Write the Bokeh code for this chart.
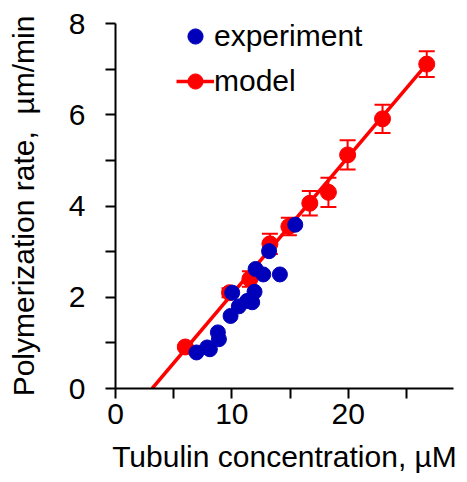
from bokeh.plotting import figure
from bokeh.models import (Range1d, FixedTicker, Whisker, ColumnDataSource, TeeHead,
                          Legend, LegendItem)
from bokeh.embed import file_html
from bokeh.resources import INLINE

# ---- data ----
exp_x = [6.96, 7.88, 8.11, 8.80, 8.89, 9.89, 10.03, 10.6, 11.32, 11.75, 11.95, 12.04, 12.7, 13.2, 14.13, 15.45]
exp_y = [0.79, 0.90, 0.86, 1.23, 1.08, 1.59, 2.10, 1.80, 1.92, 1.89, 2.12, 2.62, 2.50, 3.01, 2.50, 3.59]

model_x = [6.0, 9.8, 11.55, 13.27, 14.9, 16.7, 18.3, 19.95, 22.95, 26.75]
model_y = [0.91, 2.10, 2.40, 3.17, 3.55, 4.06, 4.30, 5.12, 5.91, 7.11]
model_err = [0.03, 0.10, 0.17, 0.22, 0.19, 0.27, 0.32, 0.32, 0.31, 0.28]

fit_x = [3.15, 26.75]
fit_y = [0.0, 7.11]

x_ticks = [0, 10, 20]
x_minor = [5, 15, 25]
y_ticks = [0, 2, 4, 6, 8]
y_minor = [1, 3, 5, 7]

FONT = "Liberation Sans"
RED = "#ff0000"
BLUE = "#0000bb"

p = figure(width=467, height=482, output_backend="svg", toolbar_location=None,
           x_range=Range1d(0, 29.05), y_range=Range1d(0, 8),
           min_border_left=115, min_border_right=14, min_border_top=23, min_border_bottom=94)
p.outline_line_color = None
p.grid.visible = False
p.background_fill_color = "white"
p.border_fill_color = "white"

src = ColumnDataSource(dict(x=model_x, y=model_y,
                            lo=[a - b for a, b in zip(model_y, model_err)],
                            hi=[a + b for a, b in zip(model_y, model_err)]))

fit = p.line(fit_x, fit_y, line_color=RED, line_width=3.5)
wh = Whisker(base="x", lower="lo", upper="hi", source=src, line_color=RED, line_width=2,
             upper_head=TeeHead(size=16, line_color=RED, line_width=2),
             lower_head=TeeHead(size=16, line_color=RED, line_width=2))
p.add_layout(wh)
mod = p.scatter("x", "y", source=src, size=16, fill_color=RED, line_color=RED)
exp = p.scatter(exp_x, exp_y, size=15, fill_color=BLUE, line_color=BLUE)

legend = Legend(items=[LegendItem(label="experiment", renderers=[exp]),
                       LegendItem(label="model", renderers=[fit, mod])],
                location=(61, 288), glyph_width=38, glyph_height=38,
                label_standoff=0, spacing=7, padding=0, margin=0,
                border_line_color=None, background_fill_alpha=0,
                label_text_font=FONT, label_text_font_size="30px",
                label_text_color="black",
                label_text_baseline="alphabetic")
p.add_layout(legend)

p.xaxis.ticker = FixedTicker(ticks=x_ticks, minor_ticks=x_minor)
p.yaxis.ticker = FixedTicker(ticks=y_ticks, minor_ticks=y_minor)
for ax in (p.xaxis[0], p.yaxis[0]):
    ax.axis_line_width = 2
    ax.major_tick_line_width = 2
    ax.minor_tick_line_width = 2
    ax.minor_tick_line_color = "black"
    ax.major_tick_in = 0
    ax.major_tick_out = 10
    ax.minor_tick_in = 0
    ax.minor_tick_out = 10
    ax.major_label_text_font = FONT
    ax.major_label_text_font_size = "30px"
    ax.major_label_text_color = "black"
    ax.axis_label_text_font = FONT
    ax.axis_label_text_font_size = "30px"
    ax.axis_label_text_font_style = "normal"
    ax.axis_label_text_color = "black"

p.xaxis.axis_label = "Tubulin concentration, µM"
p.yaxis.axis_label = "Polymerization rate,\u00a0 µm/min"
p.xaxis.major_label_standoff = 5
p.yaxis.major_label_standoff = 20
p.xaxis.axis_label_standoff = 13
p.yaxis.axis_label_standoff = 26

open("out.html", "w").write(file_html(p, INLINE))
